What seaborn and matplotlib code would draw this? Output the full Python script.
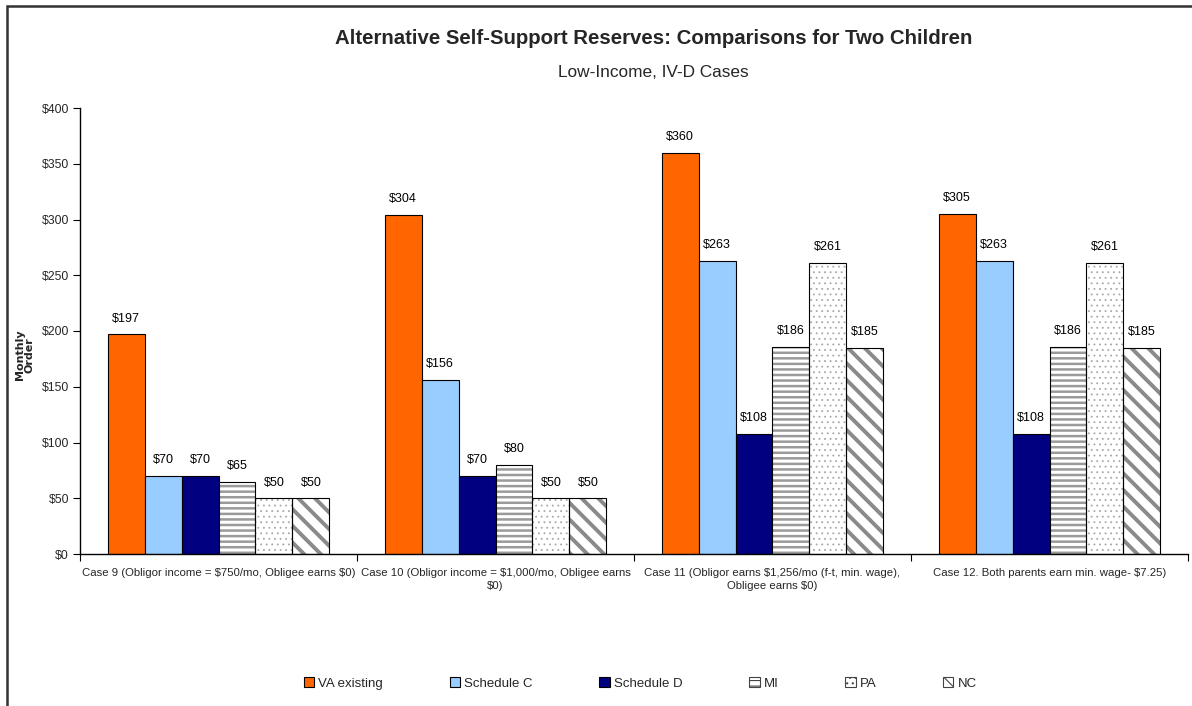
import matplotlib
matplotlib.use("Agg")
import matplotlib.pyplot as plt
from matplotlib.patches import Rectangle, Patch
import seaborn as sns
import pandas as pd

cases = [
    "Case 9 (Obligor income = $750/mo, Obligee earns $0)",
    "Case 10 (Obligor income = $1,000/mo, Obligee earns\n$0)",
    "Case 11 (Obligor earns $1,256/mo (f-t, min. wage),\nObligee earns $0)",
    "Case 12. Both parents earn min. wage- $7.25)",
]
schemes = ["VA existing", "Schedule C", "Schedule D", "MI", "PA", "NC"]
va_existing = [197, 304, 360, 305]
schedule_c = [70, 156, 263, 263]
schedule_d = [70, 70, 108, 108]
mi = [65, 80, 186, 186]
pa = [50, 50, 261, 261]
nc = [50, 50, 185, 185]
yticks = [0, 50, 100, 150, 200, 250, 300, 350, 400]

series = [va_existing, schedule_c, schedule_d, mi, pa, nc]
colors = ["#FF6600", "#99CCFF", "#000080", "#FFFFFF", "#FFFFFF", "#FFFFFF"]
hatches = [None, None, None, "---", "...", "\\\\"]
hatch_colors = [None, None, None, "#9A9A9A", "#A8A8A8", "#8A8A8A"]
hatch_lws = [None, None, None, 1.8, 0.6, 2.8]

rows = []
for s, vals in zip(schemes, series):
    for c, v in zip(cases, vals):
        rows.append({"case": c, "scheme": s, "value": v})
df = pd.DataFrame(rows)

sns.set_theme(style="white")
plt.rcParams["font.family"] = ["Liberation Sans", "DejaVu Sans"]
plt.rcParams["text.parse_math"] = False
plt.rcParams["hatch.linewidth"] = 1.6

fig = plt.figure(figsize=(11.92, 7.06), dpi=100)
ax = fig.add_axes([80 / 1192, 152 / 706, 1108 / 1192, 446 / 706])

sns.barplot(data=df, x="case", y="value", hue="scheme", order=cases, hue_order=schemes,
            palette=colors, saturation=1, edgecolor="black", linewidth=0.8,
            width=0.8, legend=False, ax=ax)


def style_hatch(p, h, hc, hlw):
    p.set_hatch(h)
    p.set_edgecolor(hc)
    p.set_linewidth(0)
    if hasattr(p, "set_hatch_linewidth"):
        p.set_hatch_linewidth(hlw)
    else:
        p._hatch_linewidth = hlw


for cont, h, hc, hlw in zip(ax.containers, hatches, hatch_colors, hatch_lws):
    if h is None:
        continue
    for p in cont.patches:
        style_hatch(p, h, hc, hlw)
        ax.add_patch(Rectangle((p.get_x(), p.get_y()), p.get_width(), p.get_height(), fill=False,
                               edgecolor="black", linewidth=0.8, zorder=p.get_zorder() + 0.1))

for cont in ax.containers:
    ax.bar_label(cont, labels=[f"${v:.0f}" for v in cont.datavalues], padding=7,
                 fontsize=9, color="black")

ax.set_ylim(0, 400)
ax.set_xlim(-0.5, 3.5)
ax.set_yticks(yticks)
ax.set_yticklabels([f"${v}" for v in yticks], fontsize=8.8)
ax.set_xticks(range(len(cases)))
ax.set_xticklabels(cases, fontsize=8.2, linespacing=1.35)
ax.tick_params(axis="x", length=0, pad=10)
ax.set_xticks([-0.5, 0.5, 1.5, 2.5, 3.5], minor=True)
ax.tick_params(axis="x", which="minor", length=5, width=0.8, color="black", direction="out", bottom=True)
ax.tick_params(axis="y", length=5, width=0.8, color="black", direction="out", left=True, pad=3)
for side in ["top", "right"]:
    ax.spines[side].set_visible(False)
for side in ["left", "bottom"]:
    ax.spines[side].set_color("black")
    ax.spines[side].set_linewidth(1.0)
ax.set_xlabel("")
ax.set_ylabel("Monthly\nOrder", fontsize=8, fontweight="bold", family="DejaVu Sans", linespacing=1.0)
ax.yaxis.set_label_coords(-0.041, 0.446)

fig.text(0.548, 0.946, "Alternative Self-Support Reserves: Comparisons for Two Children",
         ha="center", va="center", fontsize=14.7, fontweight="bold")
fig.text(0.548, 0.897, "Low-Income, IV-D Cases", ha="center", va="center", fontsize=12.4)

handles = []
for s, c, h in zip(schemes, colors, hatches):
    ec = "black" if h is None else "#444444"
    handles.append(Patch(facecolor=c, edgecolor=ec, hatch=h, linewidth=0.8, label=s))
leg = fig.legend(handles=handles, loc="center", bbox_to_anchor=(0.537, 0.032), ncol=6,
                 frameon=False, fontsize=9.5, handlelength=0.8, handleheight=0.8,
                 handletextpad=0.3, columnspacing=5.05)
for lp in leg.get_patches():
    if hasattr(lp, "set_hatch_linewidth"):
        lp.set_hatch_linewidth(0.8)
    else:
        lp._hatch_linewidth = 0.8

fig.add_artist(Rectangle((7 / 1192, -0.1), 1.2, 1.1 - 6 / 706, transform=fig.transFigure,
                         fill=False, edgecolor="#333333", linewidth=1.8))

fig.savefig("out.png", dpi=100)
